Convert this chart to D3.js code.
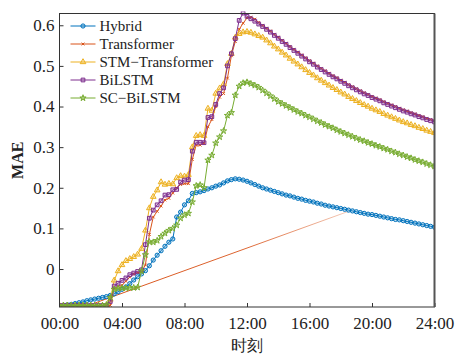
<!DOCTYPE html>
<html>
<head>
<meta charset="utf-8">
<script src="https://cdn.jsdelivr.net/npm/d3@7"></script>
<style>
  body { margin: 0; background: #fff; }
  svg { display: block; }
  text { font-family: "Liberation Serif", "Times New Roman", serif; fill: #222; }
</style>
</head>
<body>
<svg id="chart" width="462" height="358"></svg>
<script>
// 15-minute steps over one day
const steps = d3.range(97).map(i => i / 4);

const hybrid = [
  -0.090, -0.089, -0.088, -0.087, -0.085, -0.083, -0.081, -0.078, -0.076, -0.074,
  -0.072, -0.070, -0.068, -0.065, -0.061, -0.056, -0.050, -0.044, -0.036, -0.027,
  -0.019, -0.012, -0.004, 0.008, 0.022, 0.034, 0.045, 0.056, 0.066, 0.074,
  0.128, 0.140, 0.158, 0.168, 0.186, 0.188, 0.190, 0.193, 0.197, 0.200,
  0.204, 0.207, 0.212, 0.217, 0.220, 0.222, 0.221, 0.219, 0.216, 0.212,
  0.208, 0.204, 0.200, 0.197, 0.194, 0.191, 0.188, 0.185, 0.182, 0.180,
  0.177, 0.174, 0.172, 0.169, 0.167, 0.165, 0.162, 0.160, 0.157, 0.155,
  0.153, 0.151, 0.149, 0.147, 0.145, 0.143, 0.141, 0.139, 0.137, 0.135,
  0.134, 0.132, 0.130, 0.128, 0.126, 0.124, 0.122, 0.121, 0.119, 0.117,
  0.115, 0.113, 0.111, 0.109, 0.107, 0.105, 0.103
];

const transformer = [
  -0.090, -0.090, -0.090, -0.090, -0.090, -0.090, -0.090, -0.090, -0.090, -0.090,
  -0.090, -0.090, -0.090, -0.090, -0.047, -0.043, -0.040, -0.030, -0.020, -0.012,
  -0.009, -0.007, 0.010, 0.085, 0.128, 0.142, 0.155, 0.170, 0.174, 0.187,
  0.200, 0.208, 0.210, 0.210, 0.270, 0.305, 0.305, 0.310, 0.350, 0.368,
  0.400, 0.423, 0.432, 0.470, 0.525, 0.560, 0.590, 0.605, 0.618, 0.620,
  0.615, 0.607, 0.600, 0.593, 0.586, 0.578, 0.571, 0.563, 0.556, 0.548,
  0.541, 0.534, 0.527, 0.520, 0.513, 0.507, 0.500, 0.494, 0.488, 0.482,
  0.476, 0.471, 0.465, 0.460, 0.454, 0.449, 0.444, 0.439, 0.434, 0.430,
  0.425, 0.421, 0.417, 0.412, 0.408, 0.404, 0.400, 0.396, 0.392, 0.389,
  0.385, 0.382, 0.378, 0.375, 0.371, 0.368, 0.365
];

// the stray straight trace of the Transformer run: [hour, value]
const transformerTrace = [[1.6, -0.093], [18.5, 0.142]];

const stmTransformer = [
  -0.090, -0.090, -0.090, -0.090, -0.090, -0.090, -0.090, -0.090, -0.090, -0.090,
  -0.090, -0.090, -0.090, -0.075, -0.028, -0.005, 0.010, 0.020, 0.025, 0.030,
  0.036, 0.050, 0.095, 0.150, 0.178, 0.194, 0.214, 0.208, 0.210, 0.209,
  0.224, 0.229, 0.228, 0.232, 0.300, 0.328, 0.330, 0.328, 0.395, 0.390,
  0.432, 0.445, 0.455, 0.505, 0.530, 0.570, 0.579, 0.583, 0.584, 0.582,
  0.578, 0.574, 0.570, 0.563, 0.556, 0.548, 0.541, 0.533, 0.526, 0.518,
  0.511, 0.504, 0.497, 0.490, 0.483, 0.477, 0.470, 0.464, 0.458, 0.452,
  0.446, 0.441, 0.435, 0.430, 0.424, 0.419, 0.414, 0.409, 0.404, 0.400,
  0.395, 0.391, 0.387, 0.382, 0.378, 0.374, 0.370, 0.366, 0.362, 0.359,
  0.355, 0.352, 0.348, 0.345, 0.341, 0.338, 0.335
];

const biLSTM = [
  -0.090, -0.090, -0.090, -0.090, -0.090, -0.090, -0.090, -0.090, -0.090, -0.090,
  -0.090, -0.090, -0.090, -0.080, -0.042, -0.035, -0.028, -0.022, -0.014, -0.010,
  -0.006, -0.002, 0.060, 0.125, 0.145, 0.158, 0.168, 0.182, 0.183, 0.195,
  0.196, 0.214, 0.219, 0.220, 0.290, 0.312, 0.312, 0.311, 0.373, 0.375,
  0.405, 0.432, 0.446, 0.500, 0.530, 0.567, 0.612, 0.630, 0.622, 0.616,
  0.610, 0.603, 0.597, 0.590, 0.583, 0.575, 0.568, 0.560, 0.553, 0.545,
  0.538, 0.531, 0.524, 0.517, 0.510, 0.504, 0.497, 0.491, 0.485, 0.479,
  0.473, 0.468, 0.462, 0.457, 0.451, 0.446, 0.441, 0.436, 0.431, 0.427,
  0.422, 0.418, 0.414, 0.409, 0.405, 0.401, 0.397, 0.393, 0.389, 0.386,
  0.382, 0.379, 0.375, 0.372, 0.368, 0.365, 0.362
];

const scBiLSTM = [
  -0.090, -0.090, -0.090, -0.090, -0.090, -0.090, -0.090, -0.090, -0.090, -0.090,
  -0.090, -0.090, -0.088, -0.070, -0.050, -0.048, -0.047, -0.047, -0.046, -0.046,
  -0.045, -0.005, 0.035, 0.067, 0.066, 0.070, 0.080, 0.088, 0.095, 0.100,
  0.108, 0.125, 0.133, 0.137, 0.165, 0.205, 0.207, 0.200, 0.268, 0.280,
  0.310, 0.325, 0.340, 0.378, 0.385, 0.428, 0.450, 0.458, 0.460, 0.456,
  0.452, 0.447, 0.440, 0.433, 0.426, 0.419, 0.412, 0.407, 0.402, 0.397,
  0.392, 0.387, 0.383, 0.378, 0.374, 0.369, 0.364, 0.360, 0.355, 0.351,
  0.347, 0.342, 0.338, 0.334, 0.330, 0.326, 0.322, 0.318, 0.315, 0.311,
  0.308, 0.304, 0.301, 0.297, 0.294, 0.290, 0.287, 0.283, 0.280, 0.276,
  0.273, 0.269, 0.266, 0.263, 0.259, 0.256, 0.253
];

const xTicks = [0, 4, 8, 12, 16, 20, 24];
const yTicks = [0, 0.1, 0.2, 0.3, 0.4, 0.5, 0.6];

const series = [
  { name: 'Hybrid', values: hybrid, color: '#0072BD', symbol: d3.symbolCircle, size: 14 },
  { name: 'Transformer', values: transformer, color: '#D95319', symbol: d3.symbolTimes, size: 6 },
  { name: 'STM\u2212Transformer', values: stmTransformer, color: '#EDB120', symbol: d3.symbolTriangle, size: 14 },
  { name: 'BiLSTM', values: biLSTM, color: '#7E2F8E', symbol: d3.symbolSquare, size: 14 },
  { name: 'SC\u2212BiLSTM', values: scBiLSTM, color: '#77AC30', symbol: d3.symbolStar, size: 12 },
];

const W = 462, H = 358;
const m = { left: 59.5, right: 27.5, top: 13.5, bottom: 51 };

const svg = d3.select('#chart');

const x = d3.scaleLinear().domain([0, 24]).range([m.left, W - m.right]);
const y = d3.scaleLinear().domain([-0.0935, 0.629]).range([H - m.bottom, m.top]);

const defs = svg.append('defs');
defs.append('clipPath').attr('id', 'plot')
  .append('rect')
    .attr('x', m.left).attr('y', m.top - 2)
    .attr('width', x(24) - m.left).attr('height', y.range()[0] - m.top + 2);

// the straight Transformer trace fades out toward its end
const fade = defs.append('linearGradient').attr('id', 'fade')
    .attr('gradientUnits', 'userSpaceOnUse')
    .attr('x1', x(transformerTrace[0][0])).attr('y1', y(transformerTrace[0][1]))
    .attr('x2', x(transformerTrace[1][0])).attr('y2', y(transformerTrace[1][1]));
fade.append('stop').attr('offset', '0%').attr('stop-color', '#D95319').attr('stop-opacity', 1);
fade.append('stop').attr('offset', '60%').attr('stop-color', '#D95319').attr('stop-opacity', 0.9);
fade.append('stop').attr('offset', '100%').attr('stop-color', '#D95319').attr('stop-opacity', 0.3);

// axes with inward ticks
svg.append('g')
    .attr('transform', `translate(0,${y.range()[0]})`)
    .call(d3.axisBottom(x).tickValues(xTicks).tickSizeInner(-4).tickSizeOuter(0)
      .tickPadding(10).tickFormat(d => String(d).padStart(2, '0') + ':00'))
    .call(g => g.select('.domain').remove())
    .call(g => g.selectAll('line').attr('stroke', '#333'))
    .call(g => g.selectAll('text').attr('font-size', 17).attr('font-family', '"Liberation Serif", serif').attr('fill', '#222'));

svg.append('g')
    .attr('transform', `translate(${m.left},0)`)
    .call(d3.axisLeft(y).tickValues(yTicks).tickSizeInner(-4).tickSizeOuter(0)
      .tickPadding(5).tickFormat(d => d === 0 ? '0' : d.toFixed(1)))
    .call(g => g.select('.domain').remove())
    .call(g => g.selectAll('line').attr('stroke', '#333'))
    .call(g => g.selectAll('text').attr('font-size', 17).attr('font-family', '"Liberation Serif", serif').attr('fill', '#222'));

const plot = svg.append('g').attr('clip-path', 'url(#plot)');

plot.append('path')
    .attr('d', d3.line().x(d => x(d[0])).y(d => y(d[1]))(transformerTrace))
    .attr('fill', 'none')
    .attr('stroke', 'url(#fade)')
    .attr('stroke-width', 1);

const line = d3.line().x((d, i) => x(steps[i])).y(d => y(d));

series.forEach(s => {
  const g = plot.append('g');
  g.append('path')
      .attr('d', line(s.values))
      .attr('fill', 'none')
      .attr('stroke', s.color)
      .attr('stroke-width', 1);
  g.selectAll('path.mk')
    .data(s.values)
    .join('path')
      .attr('class', 'mk')
      .attr('transform', (d, i) => `translate(${x(steps[i])},${y(d)})`)
      .attr('d', d3.symbol(s.symbol, s.size))
      .attr('fill', s.symbol === d3.symbolTimes ? 'none' : s.color)
      .attr('fill-opacity', 0.25)
      .attr('stroke', s.color)
      .attr('stroke-width', 1);
});

// frame
svg.append('rect')
    .attr('x', m.left).attr('y', m.top)
    .attr('width', x(24) - m.left).attr('height', y.range()[0] - m.top)
    .attr('fill', 'none')
    .attr('stroke', '#333')
    .attr('stroke-width', 1);
svg.append('line')
    .attr('x1', x(24)).attr('x2', x(24))
    .attr('y1', m.top).attr('y2', y.range()[0])
    .attr('stroke', '#555').attr('stroke-width', 2);

// legend
const legend = svg.append('g').attr('transform', `translate(${m.left + 11},26)`);
series.forEach((s, i) => {
  const row = legend.append('g').attr('transform', `translate(0,${i * 18})`);
  row.append('line').attr('x1', 0).attr('x2', 25)
      .attr('stroke', s.color).attr('stroke-width', 1);
  row.append('path')
      .attr('transform', 'translate(12.5,0)')
      .attr('d', d3.symbol(s.symbol, s.size))
      .attr('fill', s.symbol === d3.symbolTimes ? 'none' : s.color)
      .attr('fill-opacity', 0.25)
      .attr('stroke', s.color);
  row.append('text')
      .attr('x', 29).attr('y', 5)
      .attr('font-size', 15)
      .text(s.name);
});

// axis titles
svg.append('text')
    .attr('transform', `translate(23,${(m.top + y.range()[0]) / 2}) rotate(-90)`)
    .attr('text-anchor', 'middle')
    .attr('font-size', 16)
    .attr('font-weight', 'bold')
    .text('MAE');

svg.append('text')
    .attr('x', (m.left + x(24)) / 2)
    .attr('y', 351)
    .attr('text-anchor', 'middle')
    .attr('font-size', 16)
    .attr('font-family', '"Noto Sans CJK SC", sans-serif')
    .text('时刻');
</script>
</body>
</html>
